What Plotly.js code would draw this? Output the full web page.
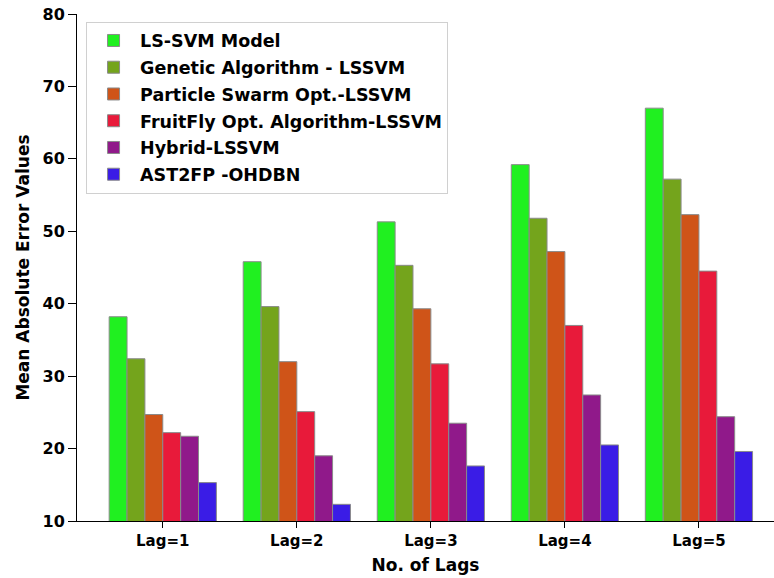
<!DOCTYPE html>
<html>
<head>
<meta charset="utf-8">
<script src="https://cdn.plot.ly/plotly-3.0.1.min.js"></script>
<style>html,body{margin:0;padding:0;background:#fff;}#chart{width:774px;height:578px;}</style>
</head>
<body>
<div id="chart"></div>
<script>
const categories = ["Lag=1", "Lag=2", "Lag=3", "Lag=4", "Lag=5"];
const seriesNames = [
  "LS-SVM Model",
  "Genetic Algorithm - LSSVM",
  "Particle Swarm Opt.-LSSVM",
  "FruitFly Opt. Algorithm-LSSVM",
  "Hybrid-LSSVM",
  "AST2FP -OHDBN"
];
const lsSvm = [38.2, 45.8, 51.3, 59.2, 67.0];
const geneticLssvm = [32.4, 39.6, 45.3, 51.8, 57.2];
const psoLssvm = [24.7, 32.0, 39.3, 47.2, 52.3];
const foaLssvm = [22.2, 25.1, 31.7, 37.0, 44.5];
const hybridLssvm = [21.7, 19.0, 23.5, 27.4, 24.4];
const ast2fpOhdbn = [15.3, 12.3, 17.6, 20.5, 19.6];
const yTicks = [10, 20, 30, 40, 50, 60, 70, 80];

const seriesValues = [lsSvm, geneticLssvm, psoLssvm, foaLssvm, hybridLssvm, ast2fpOhdbn];
const colors = ["#20f020", "#74a41c", "#cf5418", "#e81a3a", "#90198a", "#3a1ce6"];
const font = {family: "DejaVu Sans", weight: "bold", color: "#000"};

const traces = seriesValues.map((vals, i) => ({
  type: "bar",
  name: seriesNames[i],
  x: categories,
  y: vals,
  base: 0,
  legendgroup: "g" + i,
  marker: {color: colors[i], line: {color: "#8a8a8a", width: 1}},
  hoverinfo: "y"
}));

const layout = {
  width: 774,
  height: 578,
  margin: {l: 77, r: 0, t: 14, b: 57},
  paper_bgcolor: "#fff",
  plot_bgcolor: "#fff",
  barmode: "group",
  bargap: 0.2,
  bargroupgap: 0,
  showlegend: true,
  legend: {
    x: 0.013, y: 0.985, xanchor: "left", yanchor: "top",
    bgcolor: "#fff", bordercolor: "#d0d0d0", borderwidth: 1,
    font: Object.assign({size: 17.5}, font),
    itemwidth: 43,
    traceorder: "grouped", tracegroupgap: 1
  },
  xaxis: {
    type: "category",
    range: [-0.64, 4.56],
    showline: true, linecolor: "#000", linewidth: 1,
    ticks: "outside", ticklen: 6, tickcolor: "#000",
    showgrid: false, zeroline: false,
    tickfont: Object.assign({size: 15}, font),
    title: {text: "No. of Lags", font: Object.assign({size: 17}, font), standoff: 10}
  },
  yaxis: {
    range: [10, 80],
    tickvals: yTicks,
    showline: true, linecolor: "#000", linewidth: 1,
    ticks: "outside", ticklen: 8, tickcolor: "#000",
    showgrid: false, zeroline: false,
    tickfont: Object.assign({size: 16}, font),
    title: {text: "Mean Absolute Error Values", font: Object.assign({size: 17}, font), standoff: 8}
  }
};

Plotly.newPlot("chart", traces, layout, {displayModeBar: false, staticPlot: true});
</script>
</body>
</html>
